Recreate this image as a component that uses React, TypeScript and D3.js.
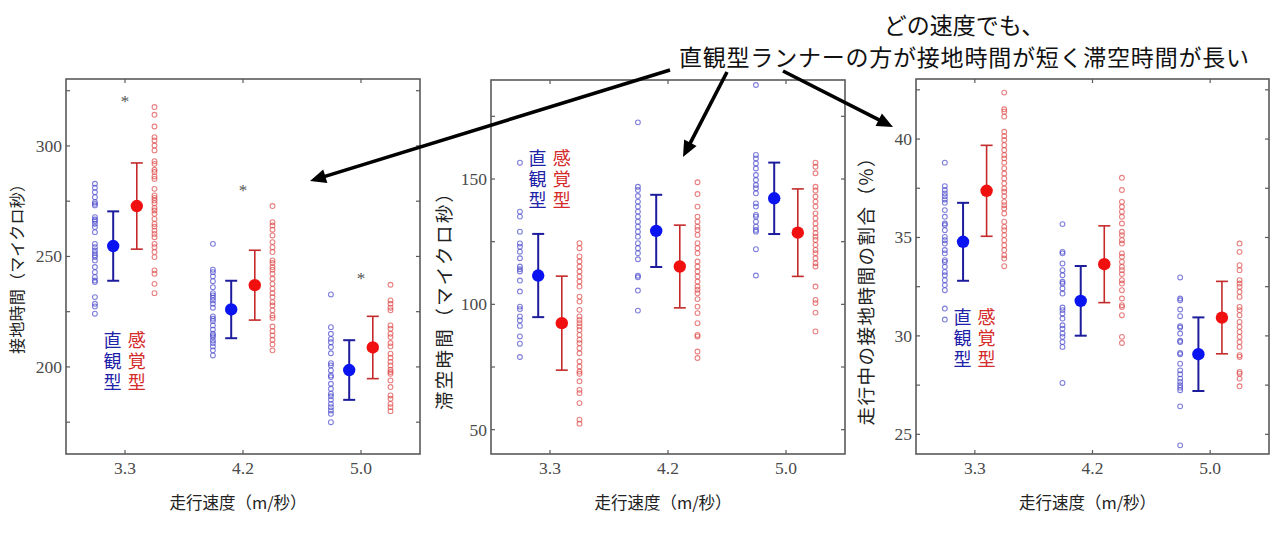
import React from "react";
import * as d3 from "d3";

const speeds = ["3.3", "4.2", "5.0"];

// Panel 1: 接地時間 (contact time)
const contactIntuitive = [
  [282.9, 281.1, 279.1, 276.8, 274.6, 273.8, 273.1, 267.8, 266.7, 266, 264.8, 263.3, 261, 255.7, 254.2, 252.7, 251.5, 250.5, 249.7, 248.2, 245.2, 242.9, 240.6, 239.1, 238.4, 231.6, 228.6, 227.4, 224.1],
  [255.7, 244, 242.9, 241, 238.8, 236.1, 233.4, 232.4, 231.3, 230.1, 228.6, 226.8, 222.9, 221.8, 220.8, 218.8, 216.9, 215, 214.3, 213.5, 212, 210.8, 209.3, 207.5, 205.2],
  [232.8, 218, 215, 212.7, 211.2, 209, 206.2, 201.7, 200.7, 198.4, 196.1, 195.4, 192.4, 190.1, 187.9, 186.7, 185.1, 183.3, 181.8, 180.3, 178.8, 175],
];
const contactSensory = [
  [317.6, 314.1, 308.8, 304, 302.5, 300.2, 298, 293.1, 291.9, 289.2, 288.2, 286.2, 285.1, 280.6, 277.6, 276.5, 275.3, 274.1, 272, 270.8, 269.3, 267, 264.7, 263.5, 261.7, 260.2, 258.7, 255.7, 254.2, 252, 249.7, 243.7, 242.2, 237.6, 233.4],
  [272.8, 265.5, 264, 262.1, 259.5, 256.5, 254.2, 252, 248.2, 247, 245.2, 244, 242.2, 239.9, 237.6, 235.4, 233.4, 231.6, 229.3, 227.8, 225.6, 223.3, 222.2, 218.3, 216.2, 214.3, 212.3, 210.2, 207.5],
  [237.2, 230.1, 228.6, 226.8, 225.6, 218.8, 217.3, 215, 213.5, 210.8, 209.3, 206, 204.2, 202.3, 200.7, 198.7, 197.7, 196.9, 193.9, 190.9, 187.1, 185.6, 183.3, 181.8, 180],
];
const contactIntuitiveMean = [254.7, 226, 198.6];
const contactIntuitiveSD = [15.7, 13, 13.5];
const contactSensoryMean = [272.8, 237, 208.8];
const contactSensorySD = [19.5, 15.8, 14.1];
const contactStars = [320, 280, 240];
const contactTicks = [200, 250, 300];
const contactMinorTicks = [175, 225, 275, 325];

// Panel 2: 滞空時間 (flight time)
const flightIntuitive = [
  [156.5, 137, 135, 129, 124.3, 123, 121, 118.4, 115.1, 114, 113.1, 109.5, 105.1, 99.1, 98.1, 95.2, 93.6, 91.4, 87.2, 84.3, 79],
  [172.6, 146.9, 145.6, 143.2, 141, 139, 137, 135, 133, 131, 129, 127, 124.4, 122.4, 120.4, 118, 111.4, 110.8, 105.5, 97.5],
  [187.5, 159.6, 158.2, 156.2, 154.2, 151.6, 149.6, 147.6, 146.3, 144.3, 140.3, 139, 135.7, 135, 133, 131, 129.7, 129, 122, 111.5],
];
const flightSensory = [
  [124.4, 122.4, 119.1, 117.1, 115.1, 113.1, 111.1, 109.1, 107.1, 103.1, 101.1, 97.8, 95.2, 93.8, 92.5, 91.2, 89.8, 87.8, 85.9, 84.5, 82.5, 80.5, 77.2, 75.2, 73.2, 72.3, 69.3, 65.9, 64.6, 60.6, 54, 52.4],
  [148.7, 144, 139, 135, 133, 131, 129.7, 127.7, 124.4, 122.4, 120.4, 117.1, 115.1, 113.1, 111.1, 109.1, 107.1, 105.8, 104.4, 102.1, 99.1, 96.5, 92.5, 87.8, 87.2, 81.2, 78.6],
  [156.5, 154.9, 152.3, 146.9, 145.4, 143, 141, 139, 136.3, 134.3, 132.3, 130.3, 128.4, 127, 125.7, 123.7, 121.7, 120.4, 118.4, 116.4, 115.1, 107.1, 101.8, 100.5, 96.7, 89.2],
];
const flightIntuitiveMean = [111.5, 129.3, 142.3];
const flightIntuitiveSD = [16.6, 14.4, 14.25];
const flightSensoryMean = [92.5, 115.1, 128.6];
const flightSensorySD = [18.75, 16.5, 17.45];
const flightTicks = [50, 100, 150];
const flightMinorTicks = [75, 125, 175];

// Panel 3: 走行中の接地時間の割合 (duty factor, %)
const ratioIntuitive = [
  [38.8, 37.61, 37.41, 37.24, 37.1, 36.93, 36.76, 36.39, 36.05, 35.71, 35.63, 35.37, 35.03, 34.86, 34.69, 34.36, 34.19, 33.85, 33.76, 33.51, 33.25, 33.08, 32.83, 32.58, 32.32, 31.39, 30.83],
  [35.68, 34.27, 34.19, 33.68, 33.34, 33.08, 32.75, 32.66, 32.41, 32.15, 31.44, 31.31, 31.14, 30.88, 30.54, 30.37, 30.12, 29.95, 29.69, 29.44, 27.61],
  [32.97, 31.9, 31.81, 31.34, 31, 30.49, 30.42, 30.12, 29.75, 29.69, 29.13, 29.07, 28.59, 28.25, 28.05, 27.83, 27.66, 27.49, 27.37, 27.24, 26.42, 24.44],
];
const ratioSensory = [
  [42.36, 41.51, 41.39, 41.14, 40.37, 40.15, 39.95, 39.69, 39.44, 39.19, 39.02, 38.8, 38.51, 38.25, 38, 37.75, 37.49, 37.32, 37.1, 36.81, 36.64, 36.47, 36.22, 35.8, 35.54, 35.37, 35.12, 34.86, 34.61, 34.36, 34.1, 33.93, 33.54],
  [38.03, 37.41, 36.81, 36.56, 36.31, 36.05, 35.71, 35.29, 35.12, 34.86, 34.69, 34.19, 34.02, 33.76, 33.51, 33.34, 33.14, 32.83, 32.66, 32.32, 31.9, 31.56, 31.47, 31.05, 29.95, 29.64],
  [34.69, 34.27, 33.59, 33.34, 32.83, 32.66, 32.49, 32.24, 31.98, 31.47, 31.31, 31.05, 30.71, 30.46, 30.2, 29.95, 29.69, 29.44, 29.02, 28.93, 28.17, 28.08, 27.83, 27.44],
];
const ratioIntuitiveMean = [34.78, 31.78, 29.07];
const ratioIntuitiveSD = [1.98, 1.77, 1.87];
const ratioSensoryMean = [37.37, 33.64, 30.93];
const ratioSensorySD = [2.31, 1.95, 1.84];
const ratioTicks = [25, 30, 35, 40];
const ratioMinorTicks = [27.5, 32.5, 37.5, 42.5];

const groupIntuitive = "直観型";
const groupSensory = "感覚型";
const xTitle = "走行速度（m/秒）";
const noteLines = ["どの速度でも、", "直観型ランナーの方が接地時間が短く滞空時間が長い"];

const BLUE_PT = "#4848cc";
const RED_PT = "#de4a4a";
const BLUE_MEAN = "#0a14f0";
const RED_MEAN = "#f01010";
const BLUE_BAR = "#1c1c9c";
const RED_BAR = "#c42a2a";
const BLUE_TXT = "#1e22a8";
const RED_TXT = "#d42a2a";
const FRAME = "#5a5a5a";
const JP = "'Noto Sans CJK JP', 'Noto Sans', sans-serif";
const SERIF = "'Liberation Serif', 'DejaVu Serif', serif";

type PanelCfg = {
  left: number; right: number; top: number; bottom: number;
  domain: [number, number];
  ticks: number[]; minor: number[];
  title: string; titleX: number; titleY: number; titleLen: number; titleSize: number;
  intuitive: number[][]; sensory: number[][];
  iMean: number[]; iSD: number[]; sMean: number[]; sSD: number[];
  stars?: number[];
  legendCat: number; legendVal: number;
};

const panels: PanelCfg[] = [
  {
    left: 66, right: 420, top: 79, bottom: 454, domain: [160.6, 330.3],
    ticks: contactTicks, minor: contactMinorTicks,
    title: "接地時間（マイクロ秒）", titleX: 16, titleY: 265, titleLen: 178, titleSize: 16,
    intuitive: contactIntuitive, sensory: contactSensory,
    iMean: contactIntuitiveMean, iSD: contactIntuitiveSD, sMean: contactSensoryMean, sSD: contactSensorySD,
    stars: contactStars, legendCat: 0, legendVal: 212,
  },
  {
    left: 491, right: 845, top: 80, bottom: 454, domain: [40.3, 189.5],
    ticks: flightTicks, minor: flightMinorTicks,
    title: "滞空時間（マイクロ秒）", titleX: 443, titleY: 297, titleLen: 226, titleSize: 18.5,
    intuitive: flightIntuitive, sensory: flightSensory,
    iMean: flightIntuitiveMean, iSD: flightIntuitiveSD, sMean: flightSensoryMean, sSD: flightSensorySD,
    legendCat: 0, legendVal: 158.4,
  },
  {
    left: 916, right: 1269, top: 79, bottom: 454, domain: [24.0, 43.05],
    ticks: ratioTicks, minor: ratioMinorTicks,
    title: "走行中の接地時間の割合（%）", titleX: 865, titleY: 287, titleLen: 277, titleSize: 18.5,
    intuitive: ratioIntuitive, sensory: ratioSensory,
    iMean: ratioIntuitiveMean, iSD: ratioIntuitiveSD, sMean: ratioSensoryMean, sSD: ratioSensorySD,
    legendCat: 0, legendVal: 30.96,
  },
];

const arrows = [
  { x1: 670, y1: 70, x2: 310, y2: 181 },
  { x1: 727, y1: 72, x2: 683, y2: 157 },
  { x1: 783, y1: 71, x2: 893, y2: 127 },
];

function Panel({ p }: { p: PanelCfg }) {
  const x = d3.scaleLinear().domain([-0.5, 2.5]).range([p.left, p.right]);
  const y = d3.scaleLinear().domain(p.domain).range([p.bottom, p.top]);
  const cats = speeds.map((_, i) => i);
  const cx = (p.left + p.right) / 2 - 5;
  const cap = 6;
  const renderGroup = (vals: number[][], means: number[], sds: number[], dotOff: number, meanOff: number, ptColor: string, barColor: string, meanColor: string, bw: number) =>
    cats.map((i) => {
      const xm = x(i + meanOff);
      const yTop = y(means[i] + sds[i]);
      const yBot = y(means[i] - sds[i]);
      return (
        <g key={`${ptColor}-${i}`}>
          {vals[i].map((v, j) => (
            <circle key={j} cx={x(i + dotOff)} cy={y(v)} r={2.4} fill="none" stroke={ptColor} strokeOpacity={0.7} strokeWidth={1.1} />
          ))}
          <line x1={xm} x2={xm} y1={yTop} y2={yBot} stroke={barColor} strokeWidth={bw} />
          <line x1={xm - cap} x2={xm + cap} y1={yTop} y2={yTop} stroke={barColor} strokeWidth={bw} />
          <line x1={xm - cap} x2={xm + cap} y1={yBot} y2={yBot} stroke={barColor} strokeWidth={bw} />
          <circle cx={xm} cy={y(means[i])} r={6.2} fill={meanColor} />
        </g>
      );
    });
  const allTicks = [...p.ticks, ...p.minor].filter((t) => t >= p.domain[0] && t <= p.domain[1]);
  const legendTop = y(p.legendVal) - 9;
  return (
    <g>
      {renderGroup(p.intuitive, p.iMean, p.iSD, -0.255, -0.1, BLUE_PT, BLUE_BAR, BLUE_MEAN, 2)}
      {renderGroup(p.sensory, p.sMean, p.sSD, 0.25, 0.1, RED_PT, RED_BAR, RED_MEAN, 1.6)}
      {p.stars && p.stars.map((s, i) => (
        <text key={i} x={x(i)} y={y(s)} textAnchor="middle" dominantBaseline="central" fontSize={17} fill="#555" fontFamily={SERIF}>*</text>
      ))}
      {/* legend, written vertically */}
      <text x={x(p.legendCat - 0.105)} y={legendTop} style={{ writingMode: "vertical-rl" }} fontSize={18} letterSpacing={3} fill={BLUE_TXT} fontFamily={JP}>{groupIntuitive}</text>
      <text x={x(p.legendCat + 0.1)} y={legendTop} style={{ writingMode: "vertical-rl" }} fontSize={18} letterSpacing={3} fill={RED_TXT} fontFamily={JP}>{groupSensory}</text>
      {/* frame */}
      <rect x={p.left} y={p.top} width={p.right - p.left} height={p.bottom - p.top} fill="none" stroke={FRAME} strokeWidth={1.6} />
      {allTicks.map((t) => (
        <g key={`yt${t}`}>
          <line x1={p.left} x2={p.left + 4} y1={y(t)} y2={y(t)} stroke={FRAME} strokeWidth={1.2} />
          <line x1={p.right - 4} x2={p.right} y1={y(t)} y2={y(t)} stroke={FRAME} strokeWidth={1.2} />
        </g>
      ))}
      {p.ticks.map((t) => (
        <text key={`yl${t}`} x={p.left - 4} y={y(t)} textAnchor="end" dominantBaseline="central" fontSize={17.5} fill="#4a4a4a" fontFamily={SERIF}>{t}</text>
      ))}
      {cats.map((i) => (
        <g key={`xt${i}`}>
          <line x1={x(i)} x2={x(i)} y1={p.bottom} y2={p.bottom - 4} stroke={FRAME} strokeWidth={1.2} />
          <line x1={x(i)} x2={x(i)} y1={p.top} y2={p.top + 4} stroke={FRAME} strokeWidth={1.2} />
          <text x={x(i)} y={468} textAnchor="middle" dominantBaseline="central" fontSize={17.5} fill="#4a4a4a" fontFamily={SERIF}>{speeds[i]}</text>
        </g>
      ))}
      <text x={cx} y={502} textAnchor="middle" dominantBaseline="central" fontSize={16.5} fill="#222" fontFamily={JP}>{xTitle}</text>
      <text transform={`translate(${p.titleX},${p.titleY}) rotate(-90)`} textAnchor="middle" dominantBaseline="central" fontSize={p.titleSize} fill="#222" fontFamily={JP} textLength={p.titleLen} lengthAdjust="spacing">{p.title}</text>
    </g>
  );
}

function Arrow({ a }: { a: { x1: number; y1: number; x2: number; y2: number } }) {
  const ang = Math.atan2(a.y2 - a.y1, a.x2 - a.x1);
  const L = 16, W = 7;
  const bx = a.x2 - L * Math.cos(ang);
  const by = a.y2 - L * Math.sin(ang);
  const px = -Math.sin(ang), py = Math.cos(ang);
  const head = `${a.x2},${a.y2} ${bx + W * px},${by + W * py} ${bx - W * px},${by - W * py}`;
  return (
    <g>
      <line x1={a.x1} y1={a.y1} x2={bx + 2 * Math.cos(ang)} y2={by + 2 * Math.sin(ang)} stroke="#000" strokeWidth={3.6} />
      <polygon points={head} fill="#000" />
    </g>
  );
}

export default function App() {
  return (
    <svg width={1280} height={533} style={{ position: "absolute", left: 0, top: 0, background: "#fff" }}>
      <rect width={1280} height={533} fill="#fff" />
      {panels.map((p, i) => <Panel key={i} p={p} />)}
      {arrows.map((a, i) => <Arrow key={i} a={a} />)}
      <text x={964} y={24} textAnchor="middle" dominantBaseline="central" fontSize={23} fill="#111" fontFamily={JP}>{noteLines[0]}</text>
      <text x={964} y={56} textAnchor="middle" dominantBaseline="central" fontSize={23} fill="#111" fontFamily={JP} textLength={570} lengthAdjust="spacing">{noteLines[1]}</text>
    </svg>
  );
}
